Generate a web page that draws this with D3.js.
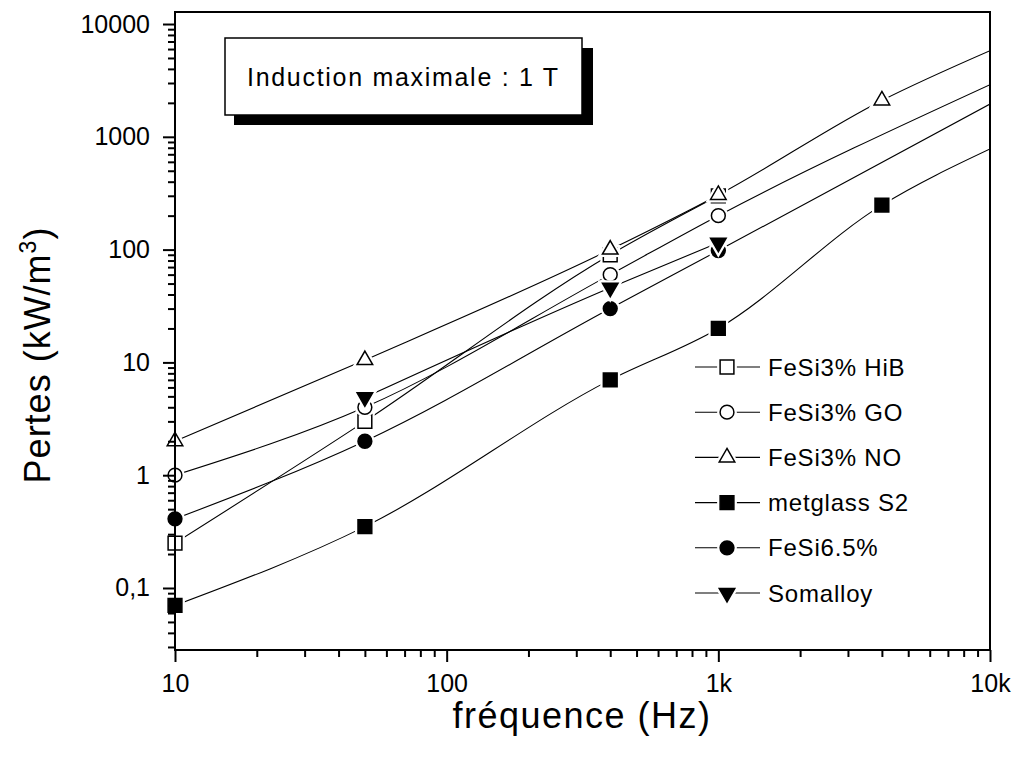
<!DOCTYPE html>
<html>
<head>
<meta charset="utf-8">
<script src="https://cdn.jsdelivr.net/npm/d3@7/dist/d3.min.js"></script>
<style>
  body { margin: 0; background: #fff; }
  text { font-family: "Liberation Sans", Arial, sans-serif; fill: #000; }
</style>
</head>
<body>
<svg id="chart" width="1021" height="767"></svg>
<script>
// frequencies of the measurement points (Hz)
var freqs = [10, 50, 400, 1000, 4000];

// losses in kW/m3, null where no point
var hibValues      = [0.25, 3, 90, 300, null];
var goValues       = [1, 4, 60, 200, null];
var noValues       = [2, 10.5, 100, 305, 2100];
var metglassValues = [0.07, 0.35, 7, 20, 248];
var fesi65Values   = [0.41, 2, 30, 98, null];
var somalloyValues = [null, 4.9, 46, 115, null];

// where each fitted line leaves the frame at 10 kHz (null = line stops at last point)
var endFreq = 10000;
var endValues = [null, 2900, 5800, 780, 1950, null];

var seriesNames = ['FeSi3% HiB', 'FeSi3% GO', 'FeSi3% NO', 'metglass S2', 'FeSi6.5%', 'Somalloy'];
var seriesSymbols = ['square', 'circle', 'triangle', 'square', 'circle', 'triangleDown'];
var seriesFilled = [false, false, false, true, true, true];

var xTickValues = [10, 100, 1000, 10000];
var xTickLabels = ['10', '100', '1k', '10k'];
var yTickValues = [0.1, 1, 10, 100, 1000, 10000];
var yTickLabels = ['0,1', '1', '10', '100', '1000', '10000'];

var noteText = 'Induction maximale : 1 T';

(function(){
  'use strict';

  var allValues = [hibValues, goValues, noValues, metglassValues, fesi65Values, somalloyValues];

  var svg = d3.select('#chart');
  var left = 175, right = 990, top = 12, bottom = 650;

  var x = d3.scaleLog().domain([10, 10000]).range([left, right]);
  var y = d3.scaleLog().domain([0.0282, 12780]).range([bottom, top]);

  function symbolPath(kind) {
    var type = d3.symbolSquare, size = 190;
    if (kind === 'circle') { type = d3.symbolCircle; size = 150; }
    if (kind === 'triangle' || kind === 'triangleDown') { type = d3.symbolTriangle; size = 105; }
    return d3.symbol().type(type).size(size)();
  }

  function drawMarker(g, cx, cy, i) {
    var kind = seriesSymbols[i];
    var rot = kind === 'triangleDown' ? ' rotate(180)' : '';
    var d = symbolPath(kind);
    // white halo so the lines stop short of the markers
    g.append('path').attr('d', d)
      .attr('transform', 'translate(' + cx + ',' + cy + ')' + rot)
      .attr('fill', '#fff').attr('stroke', '#fff').attr('stroke-width', 6);
    g.append('path').attr('d', d)
      .attr('transform', 'translate(' + cx + ',' + cy + ')' + rot)
      .attr('fill', seriesFilled[i] ? '#000' : '#fff')
      .attr('stroke', '#000').attr('stroke-width', 1.5);
  }

  // clip the lines to the frame
  svg.append('clipPath').attr('id', 'plotClip')
    .append('rect').attr('x', left).attr('y', top)
    .attr('width', right - left).attr('height', bottom - top);

  var lineGen = d3.line()
    .x(function (d) { return x(d[0]); })
    .y(function (d) { return y(d[1]); })
    .curve(d3.curveMonotoneX);

  var linesG = svg.append('g').attr('clip-path', 'url(#plotClip)');
  allValues.forEach(function (vals, i) {
    var pts = [];
    freqs.forEach(function (f, j) {
      if (vals[j] != null) pts.push([f, vals[j]]);
    });
    if (endValues[i] != null) pts.push([endFreq, endValues[i]]);
    linesG.append('path').attr('d', lineGen(pts))
      .attr('fill', 'none').attr('stroke', '#000').attr('stroke-width', 1.1);
  });

  var markersG = svg.append('g');
  allValues.forEach(function (vals, i) {
    freqs.forEach(function (f, j) {
      if (vals[j] != null) drawMarker(markersG, x(f), y(vals[j]), i);
    });
  });

  // frame
  svg.append('rect').attr('x', left).attr('y', top)
    .attr('width', right - left).attr('height', bottom - top)
    .attr('fill', 'none').attr('stroke', '#000').attr('stroke-width', 2);

  // axes: major ticks with labels, minor ticks shorter
  var xMinor = x.ticks().filter(function (t) { return xTickValues.indexOf(t) < 0; });
  var yMinor = y.ticks().filter(function (t) {
    return yTickValues.every(function (v) { return Math.abs(v - t) / v > 1e-6; });
  });

  var xAxisG = svg.append('g').attr('transform', 'translate(0,' + bottom + ')');
  xAxisG.call(d3.axisBottom(x).tickValues(xTickValues).tickSize(12).tickPadding(12)
    .tickFormat(function (d, i) { return xTickLabels[i]; }));
  xAxisG.append('g').call(d3.axisBottom(x).tickValues(xMinor).tickSize(7).tickFormat(''));

  var yAxisG = svg.append('g').attr('transform', 'translate(' + left + ',0)');
  yAxisG.call(d3.axisLeft(y).tickValues(yTickValues).tickSize(12).tickPadding(13)
    .tickFormat(function (d, i) { return yTickLabels[i]; }));
  yAxisG.append('g').call(d3.axisLeft(y).tickValues(yMinor).tickSize(7).tickFormat(''));

  svg.selectAll('.domain').remove();
  svg.selectAll('.tick line').attr('stroke', '#000').attr('stroke-width', 2);
  svg.selectAll('.tick text')
    .style('font-family', '"Liberation Sans", Arial, sans-serif')
    .style('font-size', '25px').attr('fill', '#000');

  // axis titles
  svg.append('text').attr('x', 582).attr('y', 728)
    .attr('text-anchor', 'middle').style('font-size', '36px').style('letter-spacing', '1.5px')
    .text('fréquence (Hz)');

  var yTitle = svg.append('text')
    .attr('transform', 'translate(50,' + 355 + ') rotate(-90)')
    .attr('text-anchor', 'middle').style('font-size', '36px').style('letter-spacing', '1px');
  yTitle.append('tspan').text('Pertes (kW/m');
  yTitle.append('tspan').attr('dy', -14).style('font-size', '23px').text('3');
  yTitle.append('tspan').attr('dy', 14).text(')');

  // note box with shadow
  svg.append('rect').attr('x', 234).attr('y', 48).attr('width', 359).attr('height', 77).attr('fill', '#000');
  svg.append('rect').attr('x', 225).attr('y', 38).attr('width', 357).attr('height', 77)
    .attr('fill', '#fff').attr('stroke', '#000').attr('stroke-width', 1.5);
  svg.append('text').attr('x', 247).attr('y', 86)
    .style('font-size', '25px').style('letter-spacing', '1.7px').text(noteText);

  // legend
  var legendG = svg.append('g');
  seriesNames.forEach(function (name, i) {
    var ly = 367 + i * 45.2;
    legendG.append('line').attr('x1', 695).attr('x2', 760).attr('y1', ly).attr('y2', ly)
      .attr('stroke', '#000').attr('stroke-width', 1.1);
    drawMarker(legendG, 727, ly, i);
    legendG.append('text').attr('x', 768).attr('y', ly).attr('dy', '0.36em')
      .style('font-size', '24px').style('letter-spacing', '0.8px').text(name);
  });
})();
</script>
</body>
</html>
